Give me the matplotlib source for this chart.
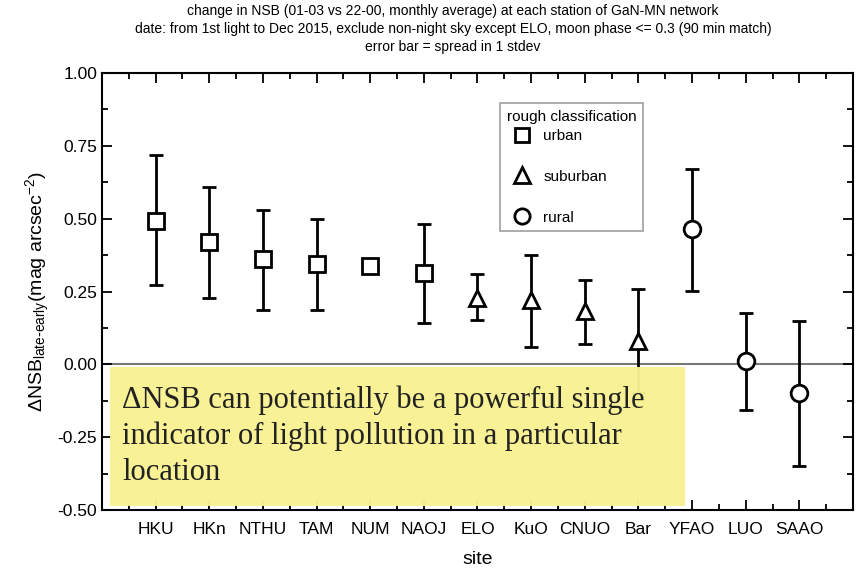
import numpy as np
import matplotlib.pyplot as plt
from matplotlib.lines import Line2D
from matplotlib.patches import Rectangle

plt.rcParams['font.family'] = ['Liberation Sans', 'DejaVu Sans']
plt.rcParams['mathtext.default'] = 'regular'

sites = ['HKU', 'HKn', 'NTHU', 'TAM', 'NUM', 'NAOJ', 'ELO',
         'KuO', 'CNUO', 'Bar', 'YFAO', 'LUO', 'SAAO']
dnsb = [0.492, 0.420, 0.361, 0.346, 0.338, 0.315, 0.229,
        0.221, 0.183, 0.080, 0.464, 0.011, -0.100]
upper = [0.718, 0.609, 0.530, 0.500, 0.338, 0.482, 0.309,
         0.375, 0.290, 0.258, 0.670, 0.175, 0.149]
lower = [0.271, 0.228, 0.187, 0.187, 0.338, 0.143, 0.152,
         0.061, 0.069, -0.098, 0.252, -0.157, -0.349]
kind = ['urban'] * 6 + ['suburban'] * 4 + ['rural'] * 3

markers = {'urban': 's', 'suburban': '^', 'rural': 'o'}
sizes = {'urban': 11, 'suburban': 12, 'rural': 12}

fig = plt.figure(figsize=(8.58, 5.76), dpi=100)
ax = fig.add_axes([102 / 858, 1 - 510 / 576, 751 / 858, 437 / 576])

x = np.arange(1, len(sites) + 1)
y = np.array(dnsb)
err = [y - np.array(lower), np.array(upper) - y]

ax.axhline(0, color='#777777', lw=1.5, zorder=1)

for k in ['urban', 'suburban', 'rural']:
    idx = [i for i, c in enumerate(kind) if c == k]
    ax.errorbar(x[idx], y[idx], yerr=[err[0][idx], err[1][idx]],
                fmt=markers[k], ms=sizes[k], mfc='white', mec='black',
                mew=2, ecolor='black', elinewidth=2, capsize=5,
                capthick=2, zorder=3)

ax.set_xlim(0, 14)
ax.set_ylim(-0.5, 1.0)
ax.set_xticks(x)
ax.set_xticklabels(sites)
ax.set_xticks(np.arange(0.5, 14, 1), minor=True)
ax.set_yticks(np.arange(-0.5, 1.01, 0.25))
ax.set_yticklabels(['%.2f' % v for v in np.arange(-0.5, 1.01, 0.25)])
ax.set_yticks(np.arange(-0.375, 1.0, 0.25), minor=True)
ax.tick_params(which='both', direction='in', top=True, right=True,
               labelsize=12.5, width=1.3)
ax.tick_params(which='major', length=7)
ax.tick_params(which='minor', length=4)
ax.tick_params(axis='x', pad=9)
for s in ax.spines.values():
    s.set_linewidth(1.5)

ax.set_xlabel('site', fontsize=14, labelpad=10)
ax.set_ylabel(r'ΔNSB$_{late\text{-}early}$(mag arcsec$^{-2}$)', fontsize=14,
              labelpad=4)

fig.text(453 / 858, 1 - 4 / 576,
         'change in NSB (01-03 vs 22-00, monthly average) at each station of GaN-MN network\n'
         'date: from 1st light to Dec 2015, exclude non-night sky except ELO, moon phase <= 0.3 (90 min match)\n'
         'error bar = spread in 1 stdev',
         ha='center', va='top', fontsize=10, linespacing=1.35)

handles = [Line2D([], [], ls='none', marker=markers[k], ms=sizes[k] - 1,
                  mfc='white', mec='black', mew=2)
           for k in ['urban', 'suburban', 'rural']]
leg = ax.legend(handles, ['urban', 'suburban', 'rural'],
                title='rough classification', loc='upper left',
                bbox_to_anchor=((492 - 102) / 751, (510 - 95) / 437),
                fontsize=11, title_fontsize=11, labelspacing=1.75,
                handletextpad=0.4, borderpad=0.45, fancybox=False,
                frameon=True, edgecolor='#888888', alignment='left')
leg.get_frame().set_linewidth(1.2)
leg._legend_box.sep = 4  # tighter gap under the legend title

# highlight note over the lower part of the plot
fig.patches.append(Rectangle((110 / 858, 1 - 506 / 576), 575 / 858, 139 / 576,
                             transform=fig.transFigure, facecolor='#f8f192',
                             edgecolor='none', alpha=0.97, zorder=5))
fig.text(122 / 858, 1 - 436 / 576,
         'ΔNSB can potentially be a powerful single\n'
         'indicator of light pollution in a particular\n'
         'location',
         ha='left', va='center', fontsize=22, linespacing=1.3,
         family=['Liberation Serif', 'DejaVu Serif'], color='#222222',
         zorder=6)

fig.savefig('out.png', dpi=100)
